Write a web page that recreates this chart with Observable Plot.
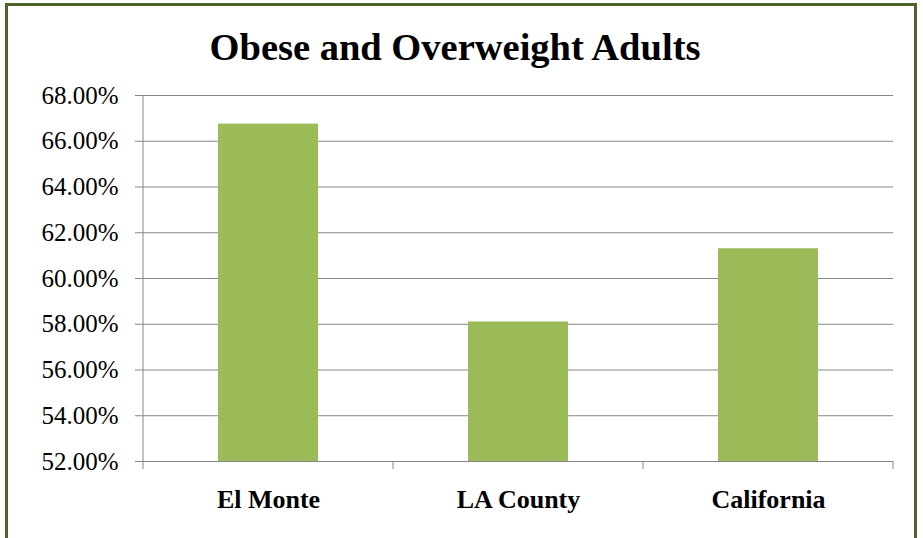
<!DOCTYPE html>
<html>
<head>
<meta charset="utf-8">
<script src="https://cdn.jsdelivr.net/npm/d3@7"></script>
<script src="https://cdn.jsdelivr.net/npm/@observablehq/plot@0.6"></script>
<style>
  html, body { margin: 0; padding: 0; background: #fff; }
  #wrap { position: relative; width: 923px; height: 538px; overflow: hidden; }
  #frame { position: absolute; left: 5px; top: 3px; width: 912px; height: 560px; border: 3px solid #4F6228; box-sizing: border-box; }
  #title { position: absolute; left: 0; top: 29px; width: 910px; text-align: center;
           font-family: "Liberation Serif", serif; font-weight: bold; font-size: 38.5px; line-height: 37px; color: #000; }
  #chart { position: absolute; left: 0; top: 0; }
</style>
</head>
<body>
<div id="wrap">
  <div id="frame"></div>
  <div id="chart"></div>
  <div id="title">Obese and Overweight Adults</div>
</div>
<script>
const titleText = "Obese and Overweight Adults";
const categories = ["El Monte", "LA County", "California"];
const values = [0.6675, 0.581, 0.613];
const yTicks = [0.52, 0.54, 0.56, 0.58, 0.60, 0.62, 0.64, 0.66, 0.68];
const yDomain = [0.52, 0.68];

const data = categories.map((c, i) => ({name: c, value: values[i]}));
const gray = "#868686";
const serif = "'Liberation Serif', 'Times New Roman', serif";

const chart = Plot.plot({
  width: 923,
  height: 538,
  marginLeft: 143,
  marginRight: 30,
  marginTop: 95,
  marginBottom: 77,
  style: {fontFamily: serif, color: "#000", background: "transparent"},
  x: {domain: categories, paddingInner: 0.6, paddingOuter: 0.3, label: null},
  y: {domain: yDomain, ticks: yTicks, label: null},
  marks: [
    Plot.gridY(yTicks, {stroke: gray, strokeOpacity: 1, strokeWidth: 1}),
    Plot.barY(data, {x: "name", y1: yDomain[0], y2: "value", fill: "#9BBB59", inset: 0}),
    Plot.ruleY([yDomain[0]], {stroke: gray, strokeWidth: 1}),
    Plot.axisY(yTicks, {tickSize: 8, tickPadding: 17, stroke: gray, fill: "#000", fontSize: 25, tickFormat: d3.format(".2%")}),
    Plot.axisX({tickSize: 0, tickPadding: 28, fontSize: 26, fontWeight: "bold", fill: "#000"})
  ]
});
document.getElementById("chart").appendChild(chart);

const svg = d3.select(chart);
svg.selectAll("text").attr("font-family", null).style("font-family", serif);

// axis lines and category boundary ticks derived from scales
const xs = chart.scale("x"), ys = chart.scale("y");
const y0 = ys.apply(yDomain[0]), y1 = ys.apply(yDomain[1]);
const step = xs.step, bw = xs.bandwidth;
const bounds = categories.map(c => xs.apply(c) - (step - bw) / 2);
bounds.push(xs.apply(categories[categories.length - 1]) + bw + (step - bw) / 2);
const g = svg.append("g").attr("stroke", gray).attr("stroke-width", 1);
g.append("line").attr("x1", bounds[0]).attr("x2", bounds[0]).attr("y1", y1).attr("y2", y0);
bounds.forEach(b => g.append("line").attr("x1", b).attr("x2", b).attr("y1", y0).attr("y2", y0 + 8));
</script>
</body>
</html>
